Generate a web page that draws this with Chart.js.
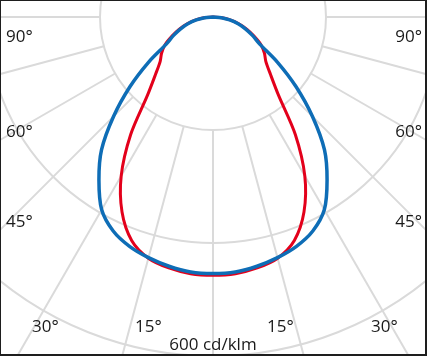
<!DOCTYPE html>
<html>
<head>
<meta charset="utf-8">
<script src="https://cdn.jsdelivr.net/npm/chart.js@4.4.0/dist/chart.umd.min.js"></script>
<style>
  html, body { margin: 0; padding: 0; background: #1e1e1e; }
  #frame { position: absolute; left: 0; top: 0; width: 427px; height: 356px; background: #1e1e1e; overflow: hidden; }
  #inner { position: absolute; left: 1px; top: 1px; width: 424px; height: 353px; background: #fff; overflow: hidden; }
  #wrap { position: absolute; left: -240px; top: -436px; width: 904px; height: 904px; }
  .lbl { position: absolute; font-family: "Open Sans", sans-serif; font-size: 17px; color: #1a1a1a; line-height: 1; white-space: nowrap; }
</style>
</head>
<body>
<div id="frame">
  <div id="inner">
    <div id="wrap"><canvas id="c" width="904" height="904"></canvas></div>
  </div>
</div>
<script>
// Polar luminous intensity (cd/klm), angle measured from nadir (0°) to horizontal (90°)
const anglesDeg = [0, 5, 10, 15, 20, 25, 30, 35, 40, 45, 50, 55, 60, 65, 70, 75, 80, 85, 90];
const blueValues = [454, 453, 448, 441, 432, 418, 394, 352, 307, 249, 192, 139, 95, 77, 61, 46, 30, 15, 0];
const redValues  = [457, 456, 451, 442, 421, 381, 325, 254, 180, 144, 122, 111, 98, 80, 64, 48, 32, 16, 0];
const ringValues = [200, 400, 600, 800];
const angleLineStep = 15;
const leftTickLabels = ['90°', '60°', '45°'];
const bottomTickLabels = ['30°', '15°', '15°', '30°'];
const unitLabel = '600 cd/klm';

const STEP = 5;
const N = 360 / STEP;
const labels = [];
for (let i = 0; i < N; i++) labels.push(String(i * STEP));

function toLoop(vals) {
  const out = [];
  for (let i = 0; i < N; i++) {
    const deg = i * STEP;
    let v = null;
    if (deg <= 90) v = vals[anglesDeg.indexOf(deg)];
    else if (deg >= 270) v = vals[anglesDeg.indexOf(360 - deg)];
    out.push(v);
  }
  return out;
}

const angleLinesPlugin = {
  id: 'angleLinesFromRing',
  beforeDatasetsDraw(chart) {
    const s = chart.scales.r;
    const ctx = chart.ctx;
    ctx.save();
    ctx.strokeStyle = '#dadada';
    ctx.lineWidth = 2;
    for (let i = 0; i < N; i++) {
      if ((i * STEP) % angleLineStep !== 0) continue;
      const a = s.getPointPositionForValue(i, ringValues[0]);
      const b = s.getPointPositionForValue(i, ringValues[ringValues.length - 1]);
      ctx.beginPath();
      ctx.moveTo(a.x, a.y);
      ctx.lineTo(b.x, b.y);
      ctx.stroke();
    }
    ctx.restore();
  }
};

new Chart(document.getElementById('c'), {
  type: 'radar',
  data: {
    labels: labels,
    datasets: [
      { label: 'blue', data: toLoop(blueValues), borderColor: '#0e6db6', borderWidth: 3.5, order: 0 },
      { label: 'red', data: toLoop(redValues), borderColor: '#e3001b', borderWidth: 3, order: 1 }
    ]
  },
  options: {
    responsive: false,
    animation: false,
    devicePixelRatio: 1,
    spanGaps: true,
    layout: { padding: 0 },
    elements: {
      line: { tension: 0.3, fill: false, borderJoinStyle: 'round', borderCapStyle: 'round' },
      point: { radius: 0, hoverRadius: 0 }
    },
    plugins: { legend: { display: false }, tooltip: { enabled: false } },
    scales: {
      r: {
        min: 0,
        max: ringValues[ringValues.length - 1],
        startAngle: 180,
        ticks: { display: false, stepSize: ringValues[0] },
        pointLabels: { display: false },
        angleLines: { display: false },
        grid: {
          circular: true,
          lineWidth: 2,
          color: (ctx) => ctx.tick && ctx.tick.value === ringValues[ringValues.length - 1] ? 'rgba(0,0,0,0)' : '#dadada'
        }
      }
    }
  },
  plugins: [angleLinesPlugin]
});

// Text labels
const inner = document.getElementById('inner');
function addLabel(text, css) {
  const d = document.createElement('div');
  d.className = 'lbl';
  d.textContent = text;
  Object.assign(d.style, css);
  inner.appendChild(d);
}
const sideTops = [26, 121, 211];
leftTickLabels.forEach((t, i) => {
  addLabel(t, { left: '5px', top: sideTops[i] + 'px' });
  addLabel(t, { right: '3px', top: sideTops[i] + 'px' });
});
const bottomLefts = [31, 134, 266, 370];
bottomTickLabels.forEach((t, i) => addLabel(t, { left: bottomLefts[i] + 'px', top: '316px' }));
addLabel(unitLabel, { left: '0px', width: '424px', textAlign: 'center', top: '334px' });
</script>
</body>
</html>
